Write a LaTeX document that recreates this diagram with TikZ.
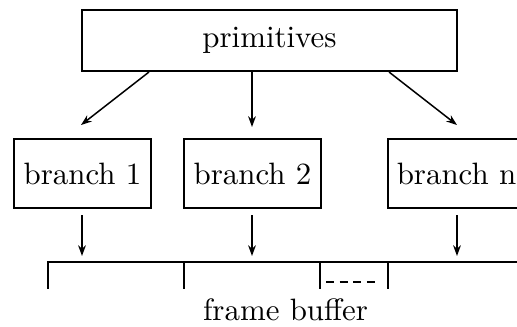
\documentclass[tikz,border=0pt]{standalone}
\usetikzlibrary{arrows.meta}
\begin{document}
\begin{tikzpicture}[x=0.3333pt,y=-0.3333pt,
  every node/.style={font=\fontsize{10.3}{12}\selectfont},
  boxnode/.style={draw,line width=0.7pt,inner sep=0pt},
  arr/.style={line width=0.5pt,-{Stealth[length=3.6pt,width=2.6pt]}},
  bufline/.style={line width=0.7pt}]
\useasboundingbox (0,0) rectangle (517,327);
\clip (0,0) rectangle (517,327);
\node[boxnode,minimum width=125pt,minimum height=20.3pt] (prim) at (269.5,40.5) {primitives};
\node[boxnode,minimum width=45.7pt,minimum height=23pt] (b1) at (82.5,173.5) {branch 1};
\node[boxnode,minimum width=45.7pt,minimum height=23pt] (b2) at (252.5,173.5) {branch 2};
\node[boxnode,minimum width=45.7pt,minimum height=23pt] (bn) at (456.5,173.5) {branch n};
% arrow end points
\coordinate (p1) at (149,72);
\coordinate (p2) at (252,72);
\coordinate (p3) at (389,72);
\coordinate (e1) at (81,125);
\coordinate (e2) at (252,127);
\coordinate (e3) at (457,125);
\draw[arr] (p1) -- (e1);
\draw[arr] (p2) -- (e2);
\draw[arr] (p3) -- (e3);
% frame buffer
\coordinate (f0) at (48,262);
\coordinate (f1) at (184,262);
\coordinate (f2) at (320,262);
\coordinate (f3) at (388,262);
\coordinate (fe) at (530,262);
\coordinate (s1) at (82,215);
\coordinate (s2) at (252,215);
\coordinate (s3) at (457,215);
\coordinate (t1) at (82,256);
\coordinate (t2) at (252,256);
\coordinate (t3) at (457,256);
\draw[arr] (s1) -- (t1);
\draw[arr] (s2) -- (t2);
\draw[arr] (s3) -- (t3);
\draw[bufline] (fe) -- (f0) -- ++(0,27);
\draw[bufline] (f1) -- ++(0,27);
\draw[bufline] (f2) -- ++(0,27);
\draw[bufline] (f3) -- ++(0,27);
\coordinate (d0) at (326,282);
\coordinate (d1) at (377,282);
\draw[line width=0.6pt,dash pattern=on 2.7pt off 1.85pt] (d0) -- (d1);
\node[anchor=base] (fb) at (285.5,320) {frame buffer};
\end{tikzpicture}
\end{document}
